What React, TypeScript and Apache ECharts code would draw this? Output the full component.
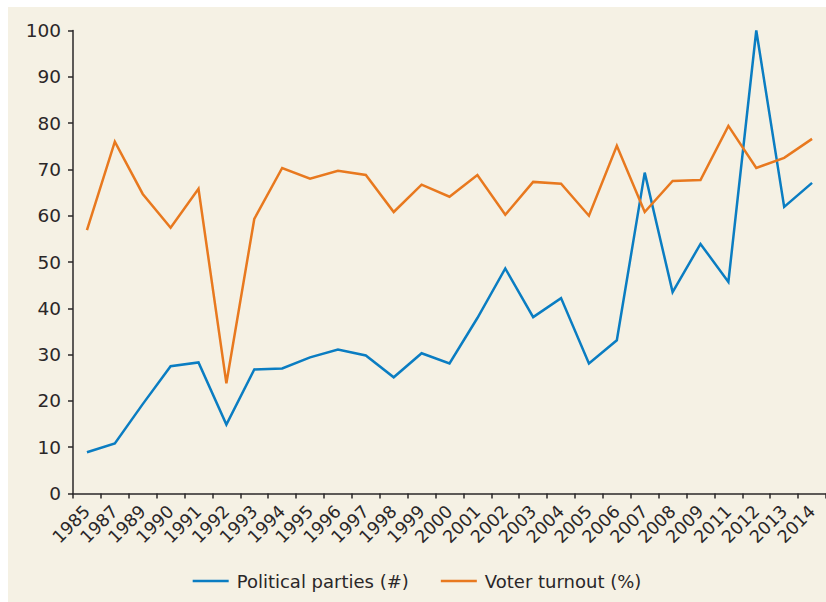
import React, { useEffect, useRef } from "react";
import * as echarts from "echarts";

const years = ["1985","1987","1989","1990","1991","1992","1993","1994","1995","1996","1997","1998","1999","2000","2001","2002","2003","2004","2005","2006","2007","2008","2009","2011","2012","2013","2014"];
const politicalParties = [8.9,10.8,19.3,27.5,28.3,14.9,26.8,27,29.4,31.1,29.8,25.1,30.3,28.1,37.9,48.6,38.1,42.2,28.1,33.1,69.3,43.5,53.9,45.7,100,61.9,67.1];
const voterTurnout = [56.9,76,64.7,57.4,65.8,23.8,59.3,70.3,68,69.7,68.8,60.8,66.7,64.1,68.8,60.2,67.3,66.9,60,75.1,60.8,67.5,67.7,79.4,70.3,72.5,76.6];
const seriesNames = ["Political parties (#)", "Voter turnout (%)"];

const FONT = "DejaVu Sans";
const TEXT = "#2a2728";

export default function App() {
  const ref = useRef<HTMLDivElement>(null);
  useEffect(() => {
    if (!ref.current) return;
    const chart = echarts.init(ref.current, null, { renderer: "svg" });
    chart.setOption({
      animation: false,
      backgroundColor: "#f5f1e4",
      textStyle: { fontFamily: FONT, color: TEXT },
      grid: { left: 65, right: 0, top: 23.5, bottom: 108.5, containLabel: false },
      legend: {
        bottom: 7,
        left: "center",
        itemWidth: 36,
        itemHeight: 14,
        itemGap: 32,
        icon: "path://M0,6h36v2.5h-36z",
        textStyle: { fontFamily: FONT, fontSize: 18, color: TEXT, padding: [0, 0, 0, 3] },
        data: seriesNames,
      },
      xAxis: {
        type: "category",
        data: years,
        boundaryGap: true,
        axisLine: { lineStyle: { color: TEXT, width: 1.5 } },
        axisTick: { show: true, length: 5, lineStyle: { color: TEXT, width: 1.5 } },
        axisLabel: { rotate: 45, fontSize: 17.5, color: TEXT, fontFamily: FONT, margin: 15, interval: 0 },
      },
      yAxis: {
        type: "value",
        min: 0,
        max: 100,
        interval: 10,
        axisLine: { show: true, lineStyle: { color: TEXT, width: 1.5 } },
        axisTick: { show: true, length: 5, lineStyle: { color: TEXT, width: 1.5 } },
        splitLine: { show: false },
        axisLabel: { fontSize: 18.5, color: TEXT, fontFamily: FONT, margin: 12 },
      },
      series: [
        {
          name: seriesNames[0],
          type: "line",
          data: politicalParties,
          showSymbol: false,
          symbol: "none",
          lineStyle: { color: "#0a7dc2", width: 2.5, join: "miter" },
          itemStyle: { color: "#0a7dc2" },
        },
        {
          name: seriesNames[1],
          type: "line",
          data: voterTurnout,
          showSymbol: false,
          symbol: "none",
          lineStyle: { color: "#e8791f", width: 2.5, join: "miter" },
          itemStyle: { color: "#e8791f" },
        },
      ],
    });
    return () => chart.dispose();
  }, []);
  return (
    <div
      ref={ref}
      style={{ position: "absolute", left: 8, top: 7, width: 818, height: 595 }}
    />
  );
}
